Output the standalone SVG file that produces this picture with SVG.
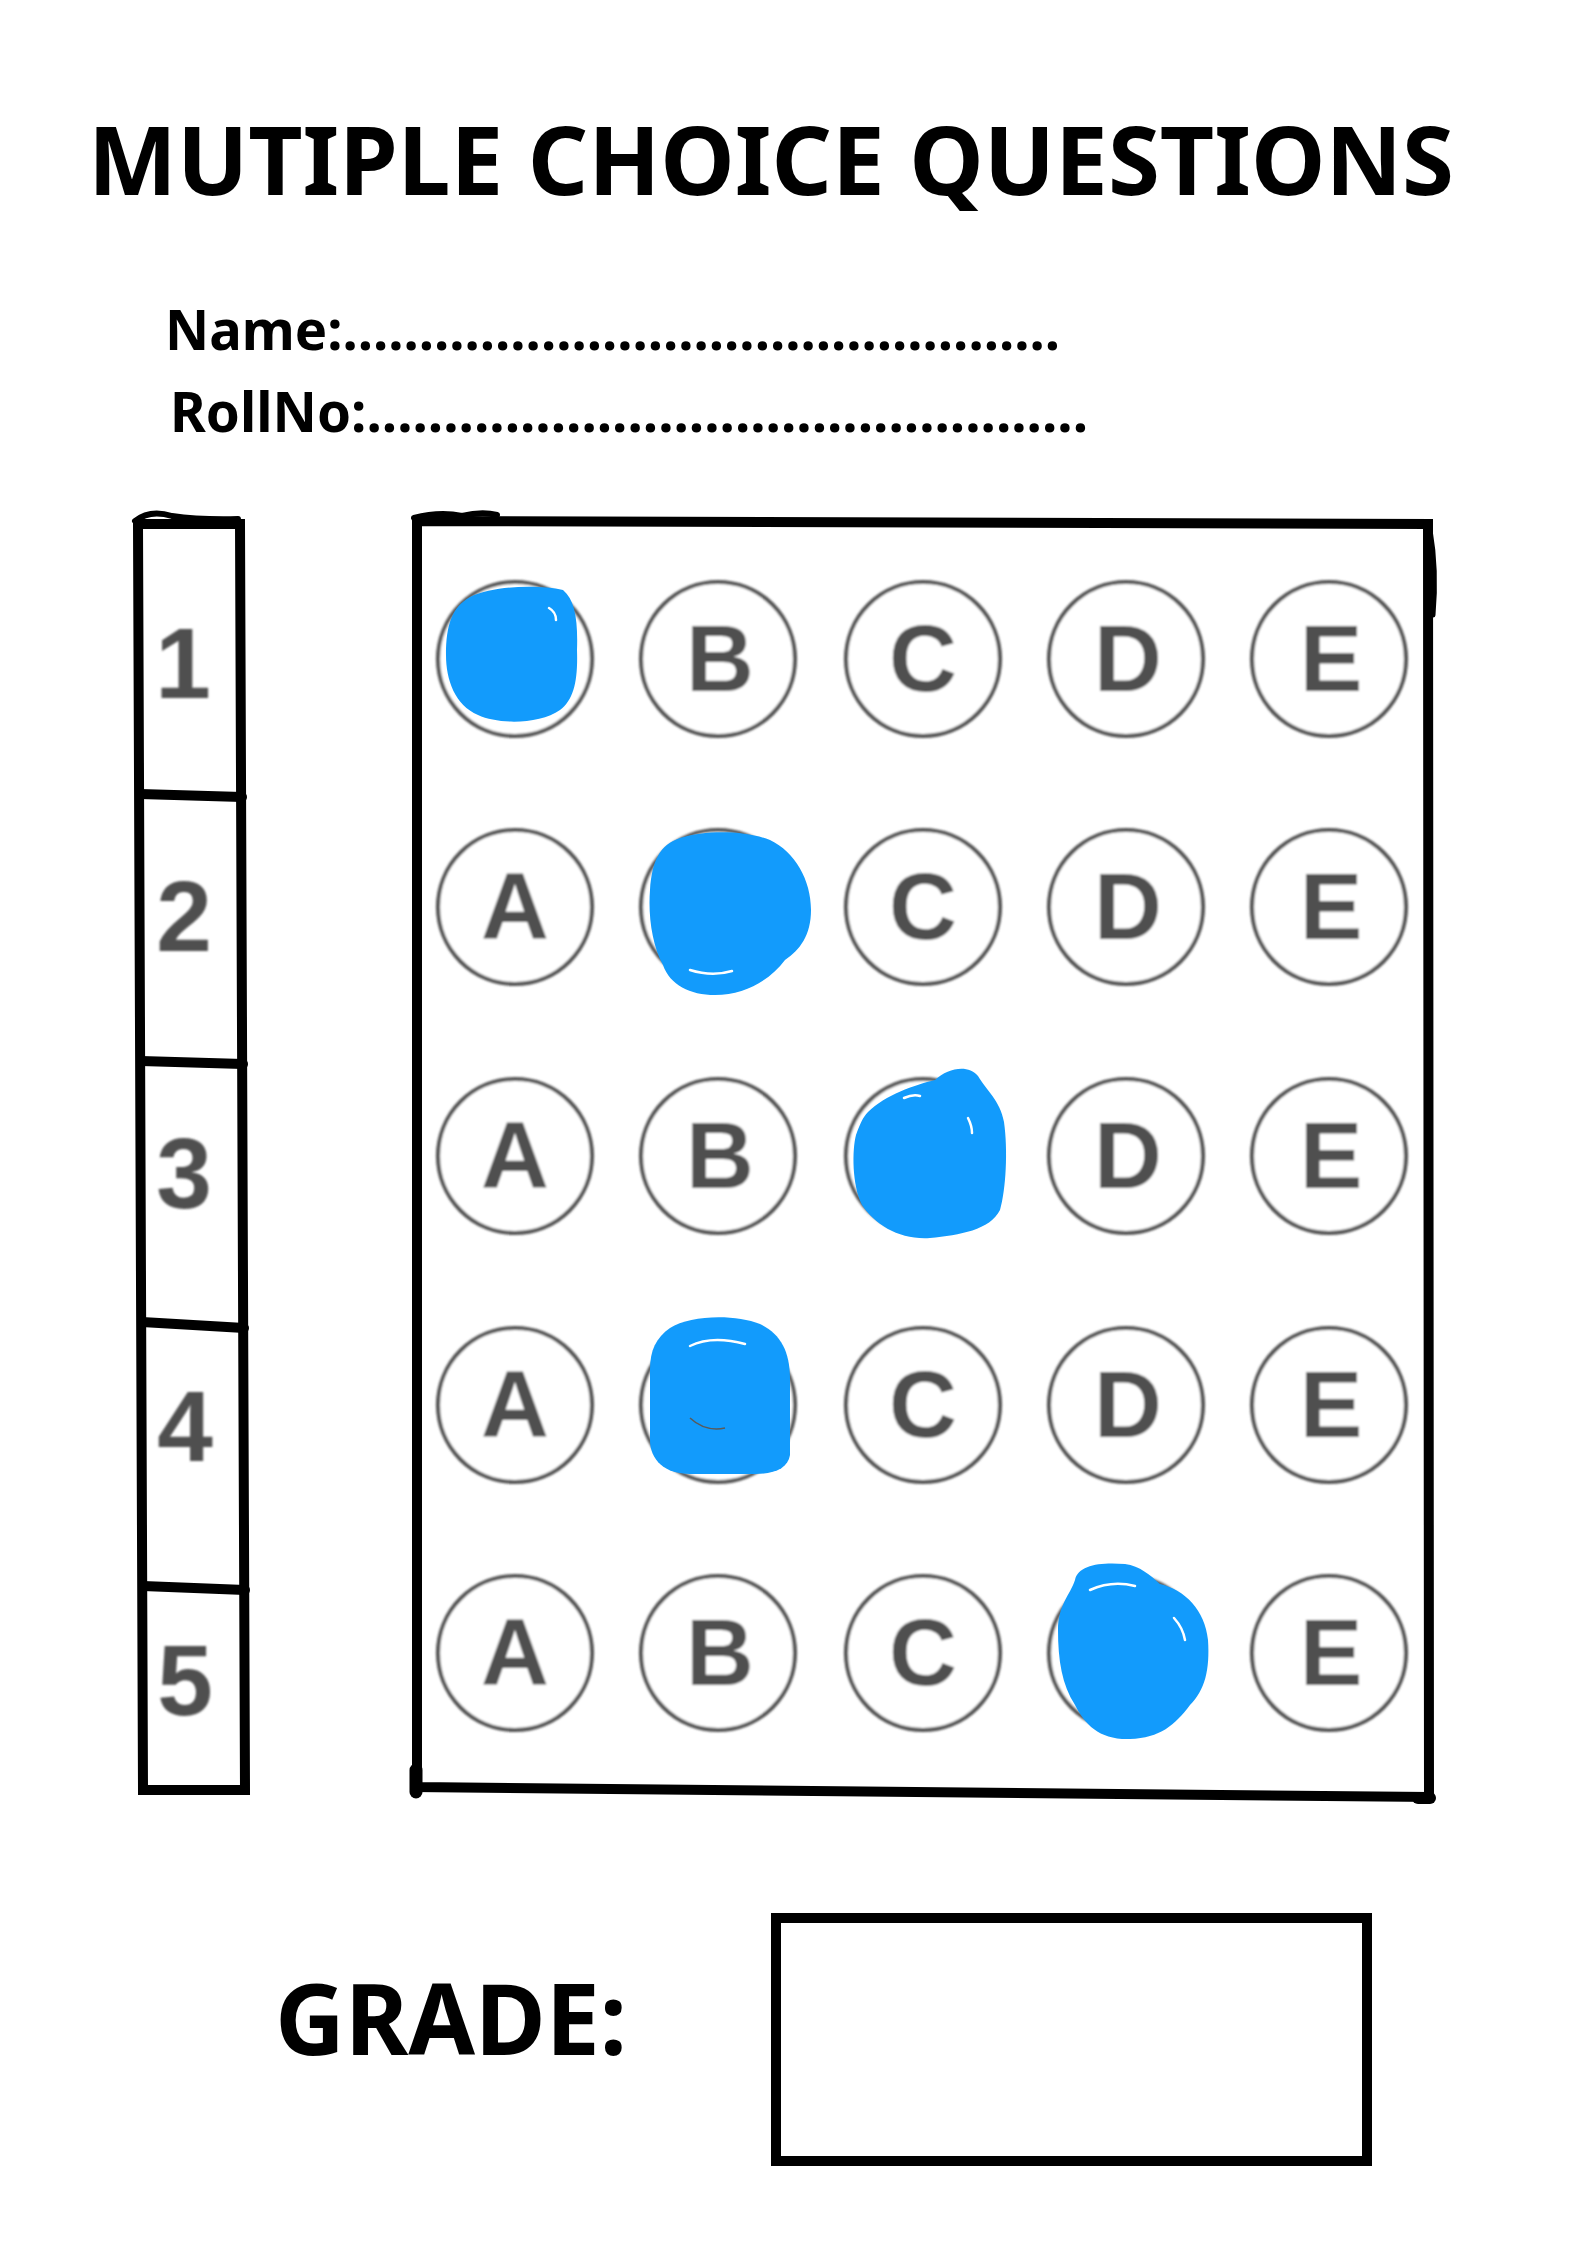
<svg xmlns="http://www.w3.org/2000/svg" width="1587" height="2245" viewBox="0 0 1587 2245">
<style>
.hd{font-family:"Noto Sans","Open Sans","Liberation Sans",sans-serif;font-weight:700;fill:#000}
.frame{fill:none;stroke:#000;stroke-width:10;stroke-linejoin:miter;stroke-linecap:round}
.bub{fill:#fff;stroke:#555;stroke-width:4.2}
.lt{font-family:"Liberation Sans",Arial,sans-serif;font-weight:700;fill:#505050;text-anchor:middle}
.mark{fill:#129bfc}
.gl{fill:none;stroke:#fff;stroke-width:2.5;stroke-linecap:round}
</style>
<defs>
<filter id="soft" x="-5%" y="-5%" width="110%" height="110%"><feGaussianBlur stdDeviation="0.8"/></filter>
</defs>
<rect width="1587" height="2245" fill="#fff"/>

<g id="title">
<text class="hd" x="88" y="195" font-size="95" textLength="1366" lengthAdjust="spacingAndGlyphs">MUTIPLE CHOICE QUESTIONS</text>
</g>
<g id="name-field">
<text class="hd" x="165" y="350" font-size="56" textLength="895" lengthAdjust="spacingAndGlyphs">Name:...............................................</text>
</g>
<g id="rollno-field">
<text class="hd" x="170" y="432" font-size="56" textLength="918" lengthAdjust="spacingAndGlyphs">RollNo:...............................................</text>
</g>

<g id="number-column">
<path class="frame" d="M138,524 L240,524 L245,1790 L143,1790 Z"/>
<path d="M135,521 Q150,509 172,516 Q200,520 238,519" fill="none" stroke="#000" stroke-width="6" stroke-linecap="round"/>
<path class="frame" d="M140,794 L242,797 M141,1061 L243,1064 M142,1322 L244,1328 M143,1586 L245,1590"/>
<g filter="url(#soft)">
<text class="lt" x="183" y="698" font-size="100">1</text>
<text class="lt" x="184" y="951" font-size="100">2</text>
<text class="lt" x="184" y="1208" font-size="100">3</text>
<text class="lt" x="185" y="1461" font-size="100">4</text>
<text class="lt" x="185" y="1715" font-size="100">5</text>
</g>
</g>

<g id="answer-grid">
<path class="frame" d="M417,1787 L417,521 L1428,524 L1429,1797 Z"/>
<path d="M414,518 Q440,511 462,516 Q482,511 497,515" fill="none" stroke="#000" stroke-width="6" stroke-linecap="round"/>
<path d="M1430,530 Q1437,570 1433,615" fill="none" stroke="#000" stroke-width="5" stroke-linecap="round"/>
<path d="M416,1770 L416,1792" fill="none" stroke="#000" stroke-width="13" stroke-linecap="round"/>
<path d="M1418,1798 L1430,1798" fill="none" stroke="#000" stroke-width="12" stroke-linecap="round"/>
<g filter="url(#soft)">
<g id="row1">
<circle class="bub" cx="515" cy="659" r="77"/><circle class="bub" cx="718" cy="659" r="77"/><circle class="bub" cx="923" cy="659" r="77"/><circle class="bub" cx="1126" cy="659" r="77"/><circle class="bub" cx="1329" cy="659" r="77"/>
<text class="lt" x="515" y="691" font-size="94">A</text><text class="lt" x="720" y="691" font-size="94">B</text><text class="lt" x="923" y="691" font-size="94">C</text><text class="lt" x="1128" y="691" font-size="94">D</text><text class="lt" x="1331" y="691" font-size="94">E</text>
</g>
<g id="row2">
<circle class="bub" cx="515" cy="907" r="77"/><circle class="bub" cx="718" cy="907" r="77"/><circle class="bub" cx="923" cy="907" r="77"/><circle class="bub" cx="1126" cy="907" r="77"/><circle class="bub" cx="1329" cy="907" r="77"/>
<text class="lt" x="515" y="939" font-size="94">A</text><text class="lt" x="720" y="939" font-size="94">B</text><text class="lt" x="923" y="939" font-size="94">C</text><text class="lt" x="1128" y="939" font-size="94">D</text><text class="lt" x="1331" y="939" font-size="94">E</text>
</g>
<g id="row3">
<circle class="bub" cx="515" cy="1156" r="77"/><circle class="bub" cx="718" cy="1156" r="77"/><circle class="bub" cx="923" cy="1156" r="77"/><circle class="bub" cx="1126" cy="1156" r="77"/><circle class="bub" cx="1329" cy="1156" r="77"/>
<text class="lt" x="515" y="1188" font-size="94">A</text><text class="lt" x="720" y="1188" font-size="94">B</text><text class="lt" x="923" y="1188" font-size="94">C</text><text class="lt" x="1128" y="1188" font-size="94">D</text><text class="lt" x="1331" y="1188" font-size="94">E</text>
</g>
<g id="row4">
<circle class="bub" cx="515" cy="1405" r="77"/><circle class="bub" cx="718" cy="1405" r="77"/><circle class="bub" cx="923" cy="1405" r="77"/><circle class="bub" cx="1126" cy="1405" r="77"/><circle class="bub" cx="1329" cy="1405" r="77"/>
<text class="lt" x="515" y="1437" font-size="94">A</text><text class="lt" x="720" y="1437" font-size="94">B</text><text class="lt" x="923" y="1437" font-size="94">C</text><text class="lt" x="1128" y="1437" font-size="94">D</text><text class="lt" x="1331" y="1437" font-size="94">E</text>
</g>
<g id="row5">
<circle class="bub" cx="515" cy="1653" r="77"/><circle class="bub" cx="718" cy="1653" r="77"/><circle class="bub" cx="923" cy="1653" r="77"/><circle class="bub" cx="1126" cy="1653" r="77"/><circle class="bub" cx="1329" cy="1653" r="77"/>
<text class="lt" x="515" y="1685" font-size="94">A</text><text class="lt" x="720" y="1685" font-size="94">B</text><text class="lt" x="923" y="1685" font-size="94">C</text><text class="lt" x="1128" y="1685" font-size="94">D</text><text class="lt" x="1331" y="1685" font-size="94">E</text>
</g>
</g>
<g id="marks">
<path class="mark" d="M470,597 C495,585 540,585 563,590 C575,600 578,620 577,650 C578,680 574,700 560,710 C540,724 500,725 478,715 C455,705 446,680 446,655 C446,625 452,607 470,597 Z"/>
<path class="gl" d="M549,608 Q556,612 556,620"/>
<path class="mark" d="M680,838 C705,830 745,830 770,840 C795,852 811,880 811,910 C811,935 800,950 785,960 C770,980 745,995 715,995 C690,995 670,985 663,965 C652,945 648,915 650,890 C652,860 660,845 680,838 Z"/>
<path class="gl" d="M690,970 Q712,977 732,971"/>
<path class="mark" d="M868,1112 C885,1095 915,1085 935,1080 C948,1068 968,1064 978,1076 C986,1090 1000,1100 1004,1122 C1008,1150 1006,1190 1000,1210 C990,1230 960,1235 930,1238 C900,1240 875,1225 862,1205 C852,1185 852,1150 856,1135 C860,1124 863,1117 868,1112 Z"/>
<path class="gl" d="M904,1098 Q913,1094 920,1096 M968,1118 Q972,1126 972,1133"/>
<path class="mark" d="M670,1328 C690,1315 735,1314 760,1324 C780,1334 790,1350 790,1380 L790,1455 C788,1468 775,1474 755,1474 L690,1474 C665,1474 650,1460 650,1440 L650,1370 C650,1350 656,1338 670,1328 Z"/>
<path class="gl" d="M690,1346 Q712,1335 745,1344"/>
<path d="M690,1418 Q705,1432 725,1428" fill="none" stroke="#5a5a5a" stroke-width="1.5"/>
<path class="mark" d="M1075,1580 C1078,1565 1100,1562 1125,1564 C1140,1566 1150,1575 1160,1584 C1185,1590 1205,1610 1208,1640 C1210,1670 1205,1690 1190,1705 C1175,1725 1160,1738 1130,1739 C1100,1740 1085,1725 1075,1705 C1062,1685 1058,1660 1058,1630 C1058,1605 1070,1595 1075,1580 Z"/>
<path class="gl" d="M1090,1590 Q1112,1580 1135,1586 M1174,1618 Q1183,1628 1185,1640"/>
</g>
</g>

<g id="grade-label">
<text class="hd" x="275" y="2055" font-size="98" textLength="352" lengthAdjust="spacingAndGlyphs">GRADE:</text>
</g>
<g id="grade-box">
<rect class="frame" x="776" y="1918" width="591" height="243" stroke-linejoin="miter"/>
</g>
</svg>
